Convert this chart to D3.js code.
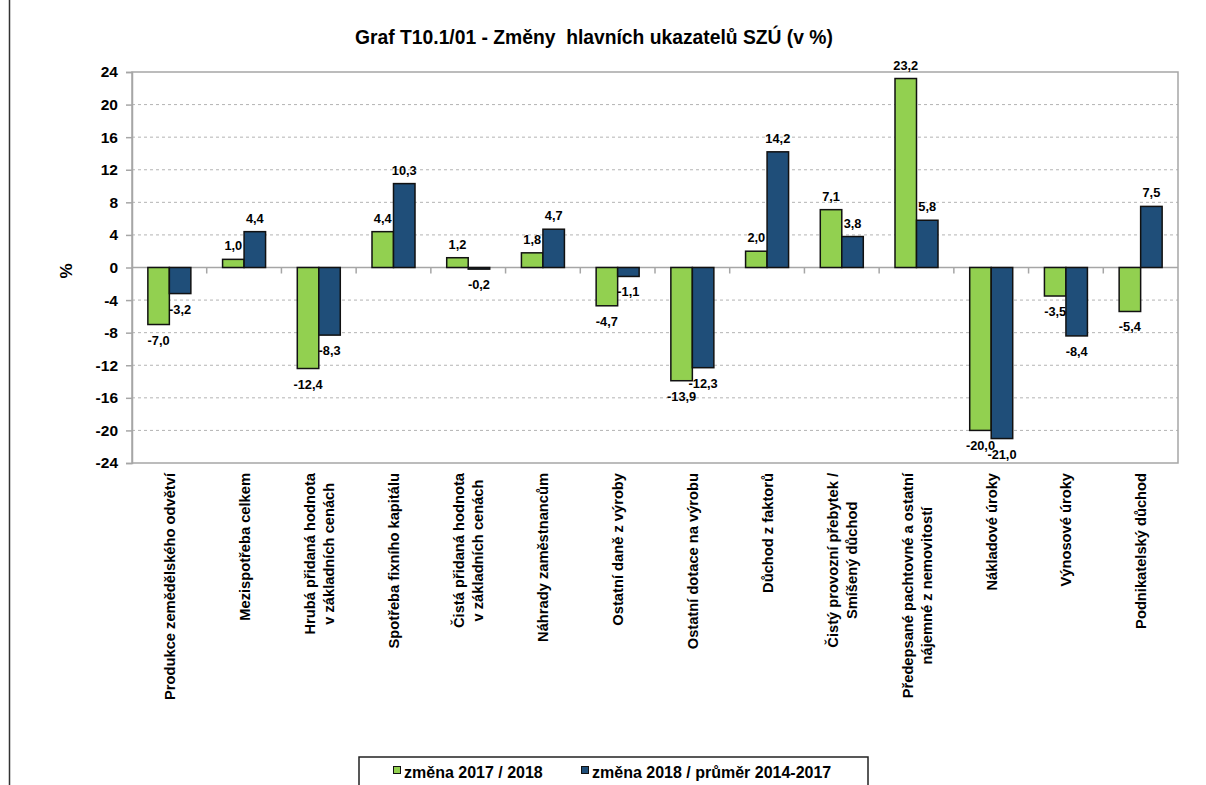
<!DOCTYPE html>
<html><head><meta charset="utf-8">
<script src="https://cdn.jsdelivr.net/npm/d3@7"></script>
<style>
html,body{margin:0;padding:0;background:#fff;}
svg text{font-family:"Liberation Sans",Arial,sans-serif;font-weight:bold;fill:#000;}
</style></head>
<body>
<svg id="chart" width="1206" height="785"></svg>
<script>
const categories = [
  ["Produkce zemědělského odvětví"],
  ["Mezispotřeba celkem"],
  ["Hrubá přidaná hodnota", "v základních cenách"],
  ["Spotřeba fixního kapitálu"],
  ["Čistá přidaná hodnota", "v základních cenách"],
  ["Náhrady zaměstnancům"],
  ["Ostatní daně z výroby"],
  ["Ostatní dotace na výrobu"],
  ["Důchod z faktorů"],
  ["Čistý provozní přebytek /", "Smíšený důchod"],
  ["Předepsané pachtovné a ostatní", "nájemné z nemovitostí"],
  ["Nákladové úroky"],
  ["Výnosové úroky"],
  ["Podnikatelský důchod"]
];
const series1 = [-7.0, 1.0, -12.4, 4.4, 1.2, 1.8, -4.7, -13.9, 2.0, 7.1, 23.2, -20.0, -3.5, -5.4];
const series2 = [-3.2, 4.4, -8.3, 10.3, -0.2, 4.7, -1.1, -12.3, 14.2, 3.8, 5.8, -21.0, -8.4, 7.5];
const seriesNames = ["změna 2017 / 2018", "změna 2018 / průměr 2014-2017"];
const yTicks = [-24, -20, -16, -12, -8, -4, 0, 4, 8, 12, 16, 20, 24];
const title = "Graf T10.1/01 - Změny\u00a0 hlavních ukazatelů SZÚ (v %)";
const colors = ["#92d050", "#1f4e79"];

const svg = d3.select("#chart");
const L = 132, R = 1178, T = 72, B = 463;

// outer left frame line
svg.append("line").attr("x1", 9.5).attr("x2", 9.5).attr("y1", 0).attr("y2", 785)
  .attr("stroke", "#333").attr("stroke-width", 1.5);

// title
svg.append("text").attr("x", 594).attr("y", 44).attr("text-anchor", "middle")
  .style("font-size", "19.3px").text(title);

const x = d3.scaleBand().domain(d3.range(categories.length)).range([L, R]);
const y = d3.scaleLinear().domain([-24, 24]).range([B, T]);

// gridlines
svg.append("g").selectAll("line").data(yTicks.filter(d => d !== 24 && d !== -24 && d !== 0))
  .join("line").attr("x1", L).attr("x2", R)
  .attr("y1", d => y(d)).attr("y2", d => y(d))
  .attr("stroke", "#b4b4b4").attr("stroke-width", 1).attr("stroke-dasharray", "3,3");

// plot border
svg.append("rect").attr("x", L).attr("y", T).attr("width", R - L).attr("height", B - T)
  .attr("fill", "none").attr("stroke", "#a6a6a6").attr("stroke-width", 1.5);

// y axis
const yAxis = d3.axisLeft(y).tickValues(yTicks).tickSize(6).tickPadding(8).tickFormat(d3.format("d"));
const gy = svg.append("g").attr("transform", `translate(${L},0)`).call(yAxis);
gy.select(".domain").attr("stroke", "#a6a6a6").attr("stroke-width", 1.5);
gy.selectAll(".tick line").attr("stroke", "#a6a6a6").attr("stroke-width", 1.5);
gy.selectAll(".tick text").style("font-size", "15.5px")
  .style("font-family", "'Liberation Sans',Arial,sans-serif").style("font-weight", "bold").attr("fill", "#000")
  .text(d => d < 0 ? "-" + Math.abs(d) : d);

// y axis title
svg.append("text").attr("transform", "translate(72,271) rotate(-90)").attr("text-anchor", "middle")
  .style("font-size", "17px").text("%");

// zero line + category ticks
svg.append("line").attr("x1", L).attr("x2", R).attr("y1", y(0)).attr("y2", y(0))
  .attr("stroke", "#a6a6a6").attr("stroke-width", 1.5);
svg.append("g").selectAll("line").data(d3.range(1, categories.length))
  .join("line").attr("x1", i => x(i)).attr("x2", i => x(i))
  .attr("y1", y(0)).attr("y2", y(0) + 6).attr("stroke", "#a6a6a6").attr("stroke-width", 1.5);

// bars
const bw = 21.5;
const inner = d3.scaleBand().domain([0, 1]).range([-bw, bw]);
const data = [];
categories.forEach((c, i) => {
  data.push({i, s: 0, v: series1[i]});
  data.push({i, s: 1, v: series2[i]});
});
svg.append("g").selectAll("rect").data(data).join("rect")
  .attr("x", d => x(d.i) + x.bandwidth() / 2 + inner(d.s))
  .attr("width", inner.bandwidth())
  .attr("y", d => Math.min(y(d.v), y(0)))
  .attr("height", d => Math.abs(y(d.v) - y(0)))
  .attr("fill", d => colors[d.s]).attr("stroke", "#111").attr("stroke-width", 1.5);

// data labels
const fmt = v => d3.format(".1f")(v).replace(".", ",").replace("−", "-");
svg.append("g").selectAll("text").data(data).join("text")
  .attr("x", d => x(d.i) + x.bandwidth() / 2 + inner(d.s) + inner.bandwidth() / 2)
  .attr("y", d => d.v >= 0 ? y(d.v) - 9 : y(d.v) + 20)
  .attr("text-anchor", "middle").style("font-size", "12.8px")
  .text(d => fmt(d.v));

// category labels
const labTop = 473;
const lineGap = 19;
const cg = svg.append("g");
categories.forEach((lines, i) => {
  const cx = x(i) + x.bandwidth() / 2;
  const tmp = lines.map(t => cg.append("text").style("font-size", "14.7px").text(t));
  const maxLen = d3.max(tmp, t => t.node().getComputedTextLength());
  const n = lines.length;
  tmp.forEach((t, k) => {
    const off = (k - (n - 1) / 2) * lineGap;
    const bx = cx + off + 5.5;
    const by = labTop + maxLen / 2;
    t.attr("text-anchor", "middle").attr("transform", `translate(${bx},${by}) rotate(-90)`);
  });
});

// legend
const lg = svg.append("g");
lg.append("rect").attr("x", 359).attr("y", 757).attr("width", 509).attr("height", 40)
  .attr("fill", "#fff").attr("stroke", "#222").attr("stroke-width", 1.5);
const legX = [393, 581];
seriesNames.forEach((nm, k) => {
  lg.append("rect").attr("x", legX[k] + 0.5).attr("y", 766.5).attr("width", 7).attr("height", 7)
    .attr("fill", colors[k]).attr("stroke", "#111").attr("stroke-width", 1);
  lg.append("text").attr("x", legX[k] + 11).attr("y", 777.5).style("font-size", "16px").text(nm);
});
</script>
</body></html>
